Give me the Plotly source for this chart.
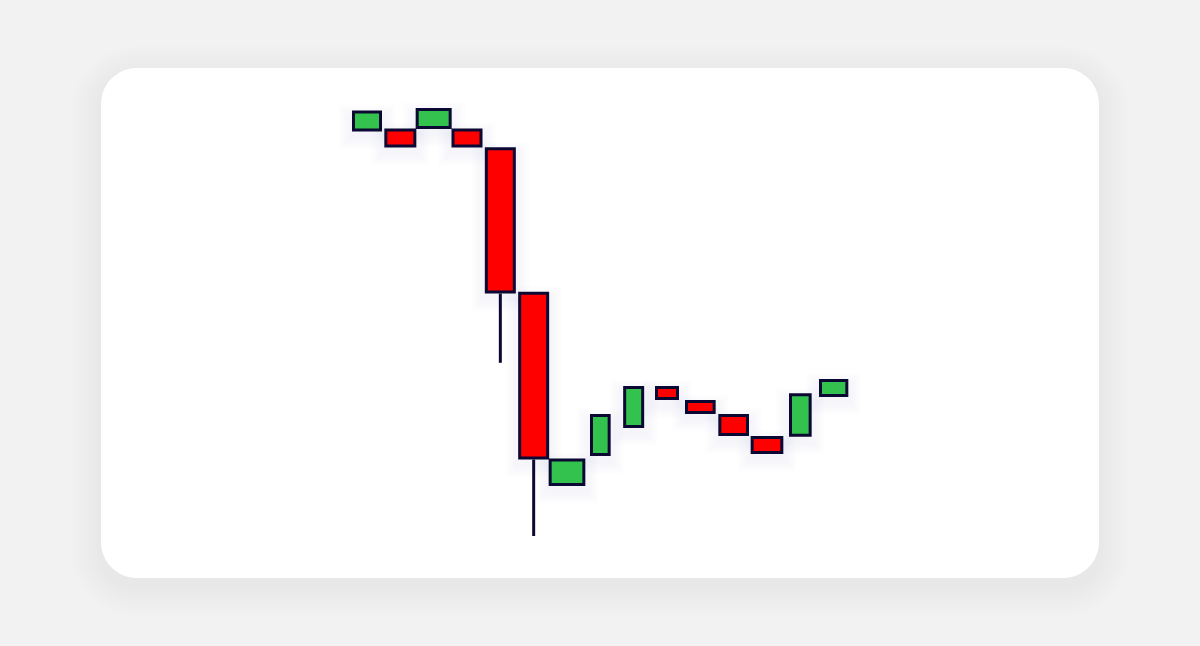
import plotly.graph_objects as go

# ---- data ----
idx = list(range(15))
opens = [117.5, 117.5, 118.1, 117.5, 112.8, 76.7, 28.9, 36.4, 43.4, 53.1, 49.6, 46.1, 40.6, 41.2, 51.1]
closes = [122.0, 113.5, 122.6, 113.5, 77.0, 35.5, 35.0, 46.1, 53.1, 50.4, 46.9, 41.4, 36.9, 51.3, 54.9]
highs = [122.0, 117.5, 122.6, 117.5, 112.8, 76.7, 35.0, 46.1, 53.1, 53.1, 49.6, 46.1, 40.6, 51.3, 54.9]
lows = [117.5, 113.5, 118.1, 113.5, 59.3, 16.0, 28.9, 36.4, 43.4, 50.4, 46.9, 41.4, 36.9, 41.2, 51.1]
body_width = [0.81, 0.87, 0.99, 0.84, 0.84, 0.84, 1.01, 0.53, 0.54, 0.63, 0.83, 0.83, 0.89, 0.59, 0.79]

# ---- styling ----
W, H = 1200, 646
GREEN = "#33c24d"
RED = "#ff0000"
EDGE = "#0b0833"
BG = "#f2f2f2"
PX_X = 33.333   # pixels per x unit
PX_Y = 4.0      # pixels per y unit
x_range = [-367 / PX_X, (W - 367) / PX_X]
y_range = [(600 - H) / PX_Y, 600 / PX_Y]


def rrect_path(x0, y0, x1, y1, r):
    """Rounded rectangle in pixel coords -> path in paper coords."""
    k = 0.5523 * r
    def p(x, y):
        return f"{x / W:.5f},{1 - y / H:.5f}"
    return (
        f"M {p(x0 + r, y0)} L {p(x1 - r, y0)} "
        f"C {p(x1 - r + k, y0)} {p(x1, y0 + r - k)} {p(x1, y0 + r)} "
        f"L {p(x1, y1 - r)} "
        f"C {p(x1, y1 - r + k)} {p(x1 - r + k, y1)} {p(x1 - r, y1)} "
        f"L {p(x0 + r, y1)} "
        f"C {p(x0 + r - k, y1)} {p(x0, y1 - r + k)} {p(x0, y1 - r)} "
        f"L {p(x0, y0 + r)} "
        f"C {p(x0, y0 + r - k)} {p(x0 + r - k, y0)} {p(x0 + r, y0)} Z"
    )


shapes = []
# card shadow
cx0, cy0, cx1, cy1, cr = 101, 68, 1099, 578, 36
for k in range(1, 11):
    e = 3.0 * k
    dy = 8
    shapes.append(dict(
        type="path", xref="paper", yref="paper", layer="below",
        path=rrect_path(cx0 - e, cy0 - e + dy, cx1 + e, cy1 + e + dy, cr + e),
        fillcolor="rgba(70,70,95,0.0075)", line=dict(width=0),
    ))
# card
shapes.append(dict(
    type="path", xref="paper", yref="paper", layer="below",
    path=rrect_path(cx0, cy0, cx1, cy1, cr),
    fillcolor="#ffffff", line=dict(width=0),
))

fig = go.Figure()

# candle glow / shadow
body_lo = [min(o, c) for o, c in zip(opens, closes)]
body_hi = [max(o, c) for o, c in zip(opens, closes)]
for k in range(1, 6):
    ex = 2.6 * k
    fig.add_trace(go.Bar(
        x=idx,
        base=[lo - (ex + 6) / PX_Y for lo in body_lo],
        y=[(hi - lo) + (2 * ex) / PX_Y for lo, hi in zip(body_lo, body_hi)],
        width=[w + (2 * ex + 3) / PX_X for w in body_width],
        marker=dict(color="rgba(70,70,150,0.010)", line=dict(width=0)),
        hoverinfo="skip", showlegend=False,
    ))

# bodies
fig.add_trace(go.Bar(
    x=idx,
    base=body_lo,
    y=[hi - lo for lo, hi in zip(body_lo, body_hi)],
    width=body_width,
    marker=dict(
        color=[GREEN if c >= o else RED for o, c in zip(opens, closes)],
        line=dict(color=EDGE, width=3),
    ),
    showlegend=False,
))

# wicks (only the parts outside the bodies)
wx, wy = [], []
for i, hi, lo, bh, bl in zip(idx, highs, lows, body_hi, body_lo):
    if hi > bh:
        wx += [i, i, None]
        wy += [hi, bh + 1.5 / PX_Y, None]
    if lo < bl:
        wx += [i, i, None]
        wy += [bl - 1.5 / PX_Y, lo, None]
fig.add_trace(go.Scatter(
    x=wx, y=wy, mode="lines",
    line=dict(color=EDGE, width=3),
    hoverinfo="skip", showlegend=False,
))

fig.update_layout(
    width=W, height=H,
    margin=dict(l=0, r=0, t=0, b=0),
    paper_bgcolor=BG,
    plot_bgcolor="rgba(0,0,0,0)",
    barmode="overlay",
    shapes=shapes,
    showlegend=False,
    xaxis=dict(range=x_range, visible=False, fixedrange=True),
    yaxis=dict(range=y_range, visible=False, fixedrange=True),
)

fig.write_html(
    "out.html",
    config={"displayModeBar": False},
    post_script="document.body.style.margin='0';",
)
